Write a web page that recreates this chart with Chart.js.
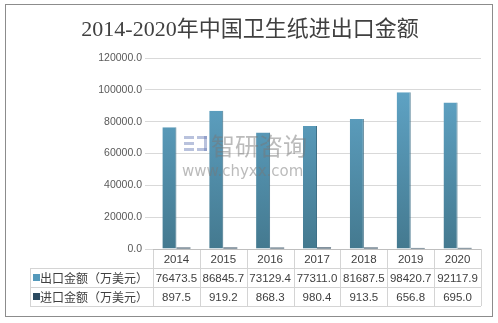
<!DOCTYPE html>
<html>
<head>
<meta charset="utf-8">
<script src="https://cdn.jsdelivr.net/npm/chart.js@4"></script>
<style>
  html, body { margin: 0; padding: 0; background: #fff; }
  #wrap { width: 498px; height: 323px; }
</style>
</head>
<body>
<div id="wrap"><canvas id="chart" width="498" height="323"></canvas></div>
<script>
const years = ["2014", "2015", "2016", "2017", "2018", "2019", "2020"];
const exportLabel = "出口金额（万美元）";
const importLabel = "进口金额（万美元）";
const exportValues = [76473.5, 86845.7, 73129.4, 77311.0, 81687.5, 98420.7, 92117.9];
const importValues = [897.5, 919.2, 868.3, 980.4, 913.5, 656.8, 695.0];
const chartTitle = "2014-2020年中国卫生纸进出口金额";

const canvas = document.getElementById("chart");

// bar fills
function exportFill(ctx) {
  const area = ctx.chart.chartArea;
  if (!area) return "#5499bb";
  const g = ctx.chart.ctx.createLinearGradient(0, area.top, 0, area.bottom);
  g.addColorStop(0, "#64abcf");
  g.addColorStop(1, "#44798f");
  return g;
}

// title, frame, watermark and the data table under the chart
const tablePlugin = {
  id: "tablePlugin",
  afterDraw(chart) {
    const c = chart.ctx;
    const xs = chart.scales.x;
    const area = chart.chartArea;
    c.save();

    // frame
    c.strokeStyle = "#8c8c8c";
    c.lineWidth = 1;
    c.strokeRect(5.5, 4.5, 487, 312);

    // title
    c.fillStyle = "#404040";
    c.font = '22px "Liberation Serif", "Noto Sans CJK SC", serif';
    c.textAlign = "center";
    c.textBaseline = "middle";
    c.fillText(chartTitle, 250, 30);

    // watermark
    c.fillStyle = "rgba(120,120,120,0.5)";
    c.font = '24px "Noto Sans CJK SC", sans-serif';
    c.textAlign = "left";
    c.fillText("智研咨询", 211, 146);
    c.font = '15px "DejaVu Sans", sans-serif';
    c.fillText("www.chyxx.com", 182, 172);
    c.fillStyle = "rgba(100,120,180,0.45)";
    c.fillRect(184, 136, 10, 3);
    c.fillRect(184, 142, 10, 3);
    c.fillRect(184, 148, 10, 3);
    c.fillRect(197, 136, 10, 3);
    c.fillRect(197, 148, 10, 3);
    c.fillRect(204, 136, 3, 15);

    // table
    const half = (xs.getPixelForValue(1) - xs.getPixelForValue(0)) / 2;
    const left = 30;
    const top = area.bottom;
    const rowH = 19;
    const r1 = top + rowH, r2 = top + 2 * rowH, r3 = top + 3 * rowH;
    const colLeft = xs.getPixelForValue(0) - half;
    const colRight = xs.getPixelForValue(years.length - 1) + half;

    c.strokeStyle = "#d4d4d4";
    c.beginPath();
    [r1, r2, r3].forEach((y) => {
      c.moveTo(left, Math.round(y) + 0.5);
      c.lineTo(colRight, Math.round(y) + 0.5);
    });
    c.moveTo(left + 0.5, r1);
    c.lineTo(left + 0.5, r3);
    for (let i = 0; i <= years.length; i++) {
      const x = Math.round(colLeft + i * 2 * half) + 0.5;
      c.moveTo(x, top);
      c.lineTo(x, r3);
    }
    c.stroke();

    c.strokeStyle = "#bfbfbf";
    c.beginPath();
    c.moveTo(colLeft, Math.round(top) + 0.5);
    c.lineTo(colRight, Math.round(top) + 0.5);
    c.stroke();

    c.fillStyle = "#404040";
    c.textAlign = "center";
    c.font = '11.5px "Liberation Sans", "Noto Sans CJK SC", sans-serif';
    years.forEach((y, i) => {
      const x = xs.getPixelForValue(i);
      c.fillText(y, x, top + rowH / 2 + 1);
      c.fillText(exportValues[i].toFixed(1), x, r1 + rowH / 2 + 1);
      c.fillText(importValues[i].toFixed(1), x, r2 + rowH / 2 + 1);
    });

    // row labels with legend keys
    c.textAlign = "left";
    c.font = '12px "Noto Sans CJK SC", sans-serif';
    c.fillStyle = "#5499bb";
    c.fillRect(33, r1 + 6, 7, 7);
    c.fillStyle = "#2b4a60";
    c.fillRect(33, r2 + 6, 7, 7);
    c.fillStyle = "#404040";
    c.fillText(exportLabel, 40, r1 + rowH / 2 + 1);
    c.fillText(importLabel, 40, r2 + rowH / 2 + 1);

    c.restore();
  },
};

new Chart(canvas, {
  type: "bar",
  data: {
    labels: years,
    datasets: [
      {
        label: exportLabel,
        data: exportValues,
        backgroundColor: exportFill,
        borderColor: "#3f7087",
        borderWidth: { right: 1, left: 0, top: 0, bottom: 0 },
        barPercentage: 1,
        categoryPercentage: 0.6,
      },
      {
        label: importLabel,
        data: importValues,
        backgroundColor: "#1f3a4f",
        barPercentage: 1,
        categoryPercentage: 0.6,
      },
    ],
  },
  plugins: [tablePlugin],
  options: {
    responsive: false,
    animation: false,
    layout: {
      padding: { top: 58, right: 17, bottom: 0, left: 0 },
    },
    scales: {
      x: {
        grid: { display: false },
        border: { display: false },
        ticks: { display: false },
        afterFit(scale) {
          scale.height = 74;
        },
      },
      y: {
        min: 0,
        max: 120000,
        afterFit(scale) {
          scale.width = 153;
        },
        border: { display: false },
        grid: {
          color: "#d9d9d9",
          tickLength: 8,
        },
        ticks: {
          stepSize: 20000,
          padding: 3,
          color: "#595959",
          font: { family: "Liberation Sans", size: 10.5 },
          callback: (v) => v.toFixed(1),
        },
      },
    },
    plugins: {
      legend: { display: false },
      title: { display: false },
      tooltip: { enabled: false },
    },
  },
});
</script>
</body>
</html>
